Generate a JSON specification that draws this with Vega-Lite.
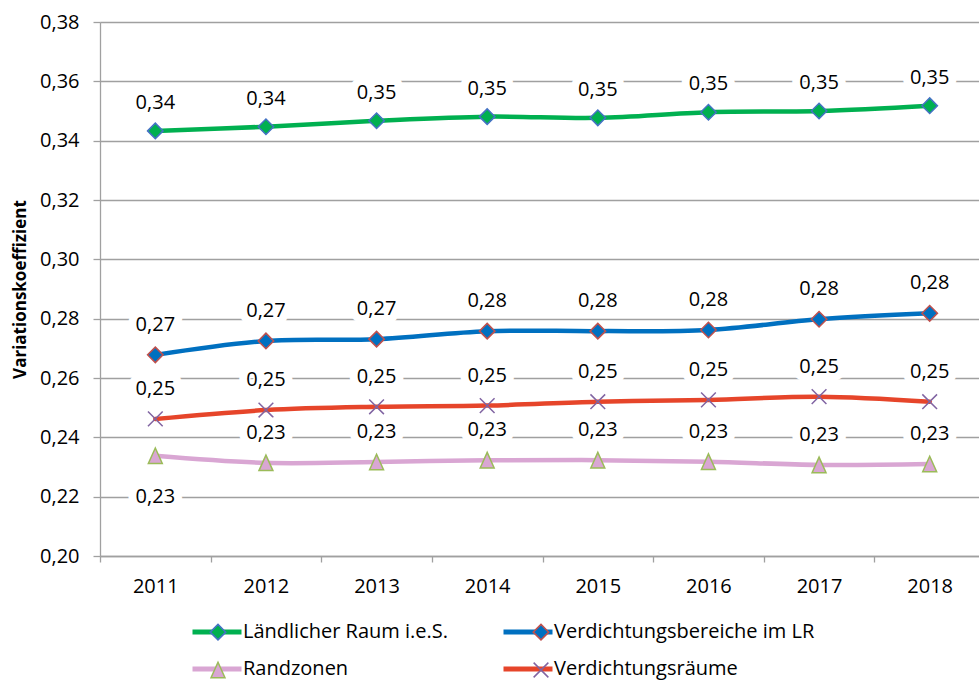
{
  "$schema": "https://vega.github.io/schema/vega-lite/v6.json",
  "width": 879,
  "height": 534,
  "autosize": {"type": "none"},
  "padding": {"left": 100, "top": 22, "right": 0, "bottom": 127},
  "background": "white",
  "config": {
    "locale": {"number": {"decimal": ",", "thousands": ".", "grouping": [3], "currency": ["", " €"]}},
    "font": "Open Sans",
    "view": {"stroke": null},
    "axis": {"labelFont": "Open Sans", "labelColor": "black", "labelFontSize": 20, "titleFont": "Open Sans", "titleColor": "black"},
    "legend": {"labelFont": "Open Sans", "labelColor": "black", "labelFontSize": 20, "labelLimit": 500}
  },
  "data": {
    "values": [
      {"year": "2011", "series": "Ländlicher Raum i.e.S.", "value": 0.3433},
      {"year": "2012", "series": "Ländlicher Raum i.e.S.", "value": 0.3447},
      {"year": "2013", "series": "Ländlicher Raum i.e.S.", "value": 0.3467},
      {"year": "2014", "series": "Ländlicher Raum i.e.S.", "value": 0.3481},
      {"year": "2015", "series": "Ländlicher Raum i.e.S.", "value": 0.3477},
      {"year": "2016", "series": "Ländlicher Raum i.e.S.", "value": 0.3496},
      {"year": "2017", "series": "Ländlicher Raum i.e.S.", "value": 0.3500},
      {"year": "2018", "series": "Ländlicher Raum i.e.S.", "value": 0.3518},
      {"year": "2011", "series": "Verdichtungsbereiche im LR", "value": 0.2678},
      {"year": "2012", "series": "Verdichtungsbereiche im LR", "value": 0.2725},
      {"year": "2013", "series": "Verdichtungsbereiche im LR", "value": 0.2731},
      {"year": "2014", "series": "Verdichtungsbereiche im LR", "value": 0.2758},
      {"year": "2015", "series": "Verdichtungsbereiche im LR", "value": 0.2758},
      {"year": "2016", "series": "Verdichtungsbereiche im LR", "value": 0.2762},
      {"year": "2017", "series": "Verdichtungsbereiche im LR", "value": 0.2798},
      {"year": "2018", "series": "Verdichtungsbereiche im LR", "value": 0.2818},
      {"year": "2011", "series": "Randzonen", "value": 0.2338},
      {"year": "2012", "series": "Randzonen", "value": 0.2314},
      {"year": "2013", "series": "Randzonen", "value": 0.2317},
      {"year": "2014", "series": "Randzonen", "value": 0.2323},
      {"year": "2015", "series": "Randzonen", "value": 0.2323},
      {"year": "2016", "series": "Randzonen", "value": 0.2318},
      {"year": "2017", "series": "Randzonen", "value": 0.2307},
      {"year": "2018", "series": "Randzonen", "value": 0.2310},
      {"year": "2011", "series": "Verdichtungsräume", "value": 0.2462},
      {"year": "2012", "series": "Verdichtungsräume", "value": 0.2492},
      {"year": "2013", "series": "Verdichtungsräume", "value": 0.2503},
      {"year": "2014", "series": "Verdichtungsräume", "value": 0.2507},
      {"year": "2015", "series": "Verdichtungsräume", "value": 0.2520},
      {"year": "2016", "series": "Verdichtungsräume", "value": 0.2526},
      {"year": "2017", "series": "Verdichtungsräume", "value": 0.2537},
      {"year": "2018", "series": "Verdichtungsräume", "value": 0.2520}
    ]
  },
  "encoding": {
    "x": {
      "field": "year", "type": "ordinal",
      "scale": {"range": [0, 885], "paddingInner": 0, "paddingOuter": 0},
      "axis": {"title": null, "labelAngle": 0, "tickBand": "extent", "tickSize": 6, "labelPadding": 14,
               "domainColor": "#A0A0A0", "domainWidth": 1.3, "tickColor": "#A0A0A0", "tickWidth": 1.3, "grid": false}
    },
    "y": {
      "field": "value", "type": "quantitative",
      "scale": {"domain": [0.2, 0.38], "zero": false, "nice": false},
      "axis": {"title": "Variationskoeffizient", "titleFontWeight": "bold", "titleFontSize": 17, "titlePadding": 10,
               "values": [0.2, 0.22, 0.24, 0.26, 0.28, 0.3, 0.32, 0.34, 0.36, 0.38], "format": ".2f",
               "grid": true, "gridColor": "#A0A0A0", "gridWidth": 1.3,
               "domainColor": "#A0A0A0", "domainWidth": 1.3, "tickColor": "#A0A0A0", "tickWidth": 1.3, "tickSize": 7, "labelPadding": 14}
    }
  },
  "resolve": {"scale": {"shape": "independent", "fill": "independent", "stroke": "independent"}},
  "layer": [
    {
      "mark": {"type": "line", "strokeWidth": 4.5, "interpolate": "catmull-rom", "strokeCap": "round", "strokeJoin": "round"},
      "encoding": {
        "color": {
          "field": "series", "type": "nominal",
          "scale": {"domain": ["Ländlicher Raum i.e.S.", "Verdichtungsbereiche im LR", "Randzonen", "Verdichtungsräume"],
                    "range": ["#00B050", "#0070C0", "#D9A6D3", "#E6452A"]},
          "legend": {"orient": "none", "legendX": 90, "legendY": 583, "columns": 2, "direction": "horizontal", "title": null,
                     "symbolType": "stroke", "symbolSize": 2401, "symbolStrokeWidth": 5,
                     "labelOffset": -1, "columnPadding": 44, "rowPadding": -15, "padding": 0}
        }
      }
    },
    {
      "mark": {"type": "point", "filled": true, "size": 240, "strokeWidth": 1.5, "opacity": 1},
      "encoding": {
        "shape": {
          "field": "series", "type": "nominal",
          "scale": {"domain": ["Ländlicher Raum i.e.S.", "Verdichtungsbereiche im LR", "Randzonen", "Verdichtungsräume"],
                    "range": ["diamond", "diamond", "M0,-1L0.9,1L-0.9,1Z", "M-0.95,-0.95L0.95,0.95M-0.95,0.95L0.95,-0.95"]},
          "legend": {"orient": "none", "legendX": 90, "legendY": 600, "columns": 2, "direction": "horizontal", "title": null,
                     "symbolSize": 240, "symbolStrokeWidth": 1.5, "symbolOpacity": 1,
                     "symbolOffset": 18, "labelOffset": 35, "labelOpacity": 0, "columnPadding": 44, "rowPadding": 16, "padding": 0}
        },
        "fill": {
          "field": "series", "type": "nominal",
          "scale": {"domain": ["Ländlicher Raum i.e.S.", "Verdichtungsbereiche im LR", "Randzonen", "Verdichtungsräume"],
                    "range": ["#00B050", "#0070C0", "#D9A6D3", "transparent"]}
        },
        "stroke": {
          "field": "series", "type": "nominal",
          "scale": {"domain": ["Ländlicher Raum i.e.S.", "Verdichtungsbereiche im LR", "Randzonen", "Verdichtungsräume"],
                    "range": ["#4472C4", "#C0504D", "#9BBB59", "#8064A2"]}
        }
      }
    },
    {
      "transform": [{"filter": "datum.series === 'Ländlicher Raum i.e.S.'"}],
      "mark": {"type": "text", "dy": -28, "fontSize": 20, "baseline": "middle", "fill": "white", "stroke": "white", "strokeWidth": 16, "strokeJoin": "round"},
      "encoding": {"text": {"field": "value", "type": "quantitative", "format": ".2f"}}
    },
    {
      "transform": [{"filter": "datum.series === 'Ländlicher Raum i.e.S.'"}],
      "mark": {"type": "text", "dy": -28, "fontSize": 20, "baseline": "middle", "color": "black"},
      "encoding": {"text": {"field": "value", "type": "quantitative", "format": ".2f"}}
    },
    {
      "transform": [{"filter": "datum.series !== 'Ländlicher Raum i.e.S.' && !(datum.series === 'Randzonen' && datum.year === '2011')"}],
      "mark": {"type": "text", "dy": -30, "fontSize": 20, "baseline": "middle", "fill": "white", "stroke": "white", "strokeWidth": 16, "strokeJoin": "round"},
      "encoding": {"text": {"field": "value", "type": "quantitative", "format": ".2f"}}
    },
    {
      "transform": [{"filter": "datum.series !== 'Ländlicher Raum i.e.S.' && !(datum.series === 'Randzonen' && datum.year === '2011')"}],
      "mark": {"type": "text", "dy": -30, "fontSize": 20, "baseline": "middle", "color": "black"},
      "encoding": {"text": {"field": "value", "type": "quantitative", "format": ".2f"}}
    },
    {
      "transform": [{"filter": "datum.series === 'Randzonen' && datum.year === '2011'"}],
      "mark": {"type": "text", "dy": 41, "fontSize": 20, "baseline": "middle", "fill": "white", "stroke": "white", "strokeWidth": 16, "strokeJoin": "round"},
      "encoding": {"text": {"field": "value", "type": "quantitative", "format": ".2f"}}
    },
    {
      "transform": [{"filter": "datum.series === 'Randzonen' && datum.year === '2011'"}],
      "mark": {"type": "text", "dy": 41, "fontSize": 20, "baseline": "middle", "color": "black"},
      "encoding": {"text": {"field": "value", "type": "quantitative", "format": ".2f"}}
    }
  ]
}
